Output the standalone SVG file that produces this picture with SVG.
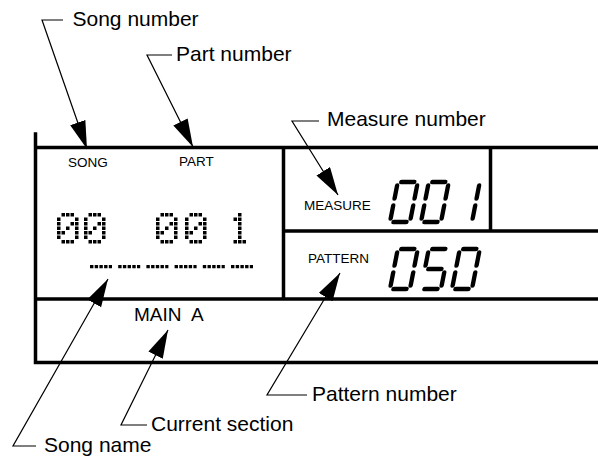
<svg xmlns="http://www.w3.org/2000/svg" width="598" height="458" viewBox="0 0 598 458">
<style>
.frame{stroke:#000;stroke-width:3.5;fill:none;stroke-linecap:square}
.lead{stroke:#000;stroke-width:1.2;fill:none;marker-end:url(#ah)}
.lbl{font-family:"Liberation Sans",Arial,sans-serif;font-size:21px;fill:#000}
.sm{font-family:"Liberation Sans",Arial,sans-serif;font-size:13.5px;fill:#000}
.lcd{font-family:"Liberation Sans",Arial,sans-serif;font-size:19px;fill:#000}
.seg{stroke:#000;stroke-width:4.4;stroke-linecap:round;fill:none}
.ul{stroke:#000;stroke-width:3.4;stroke-dasharray:3.4 1.3}
</style>
<defs>
<marker id="ah" markerUnits="userSpaceOnUse" markerWidth="30" markerHeight="18" refX="28" refY="8" orient="auto">
<path d="M0,0 L28,8 L0,16 Z" fill="#000"/>
</marker>
<path id="dz" d="M4.5 0h3.5v3.5h-3.5z M9 0h3.5v3.5h-3.5z M13.5 0h3.5v3.5h-3.5z M0 4.5h3.5v3.5h-3.5z M18 4.5h3.5v3.5h-3.5z M0 9h3.5v3.5h-3.5z M13.5 9h3.5v3.5h-3.5z M18 9h3.5v3.5h-3.5z M0 13.5h3.5v3.5h-3.5z M9 13.5h3.5v3.5h-3.5z M18 13.5h3.5v3.5h-3.5z M0 18h3.5v3.5h-3.5z M4.5 18h3.5v3.5h-3.5z M18 18h3.5v3.5h-3.5z M0 22.5h3.5v3.5h-3.5z M18 22.5h3.5v3.5h-3.5z M4.5 27h3.5v3.5h-3.5z M9 27h3.5v3.5h-3.5z M13.5 27h3.5v3.5h-3.5z" fill="#000"/>
<path id="d1" d="M9 0h3.5v3.5h-3.5z M4.5 4.5h3.5v3.5h-3.5z M9 4.5h3.5v3.5h-3.5z M9 9h3.5v3.5h-3.5z M9 13.5h3.5v3.5h-3.5z M9 18h3.5v3.5h-3.5z M9 22.5h3.5v3.5h-3.5z M4.5 27h3.5v3.5h-3.5z M9 27h3.5v3.5h-3.5z M13.5 27h3.5v3.5h-3.5z" fill="#000"/>
<g id="s0" class="seg"><path d="M3.5,-40H16.5 M20,-36.5V-23.5 M20,-16.5V-3.5 M3.5,0H16.5 M0,-16.5V-3.5 M0,-36.5V-23.5"/></g>
<g id="s1" class="seg"><path d="M20,-36.5V-23.5 M20,-16.5V-3.5"/></g>
<g id="s5" class="seg"><path d="M3.5,-40H16.5 M0,-36.5V-23.5 M3.5,-20H16.5 M20,-16.5V-3.5 M3.5,0H16.5"/></g>
</defs>

<g id="display">
<path class="frame" d="M35.5,134V362.5 M35.5,147.5H598 M35.5,299H598 M35.5,362.5H598 M283.5,147.5V299 M283.5,231H598 M490.5,147.5V231"/>
</g>

<g id="song-part-field">
<text class="sm" x="68" y="167">SONG</text>
<text class="sm" x="179" y="166">PART</text>
<use href="#dz" x="57" y="213"/>
<use href="#dz" x="84" y="213"/>
<use href="#dz" x="156" y="213"/>
<use href="#dz" x="185" y="213"/>
<use href="#d1" x="229" y="213"/>
<line class="ul" x1="90" y1="266.6" x2="112" y2="266.6"/>
<line class="ul" x1="118.2" y1="266.6" x2="140.2" y2="266.6"/>
<line class="ul" x1="146.4" y1="266.6" x2="168.4" y2="266.6"/>
<line class="ul" x1="174.6" y1="266.6" x2="196.6" y2="266.6"/>
<line class="ul" x1="202.8" y1="266.6" x2="224.8" y2="266.6"/>
<line class="ul" x1="231" y1="266.6" x2="253" y2="266.6"/>
</g>

<g id="measure-field">
<text class="sm" x="304" y="210">MEASURE</text>
<use href="#s0" transform="translate(390,222) skewX(-11)"/>
<use href="#s0" transform="translate(421,222) skewX(-11)"/>
<use href="#s1" transform="translate(452,222) skewX(-11)"/>
</g>

<g id="pattern-field">
<text class="sm" x="308" y="263">PATTERN</text>
<use href="#s0" transform="translate(390,289) skewX(-11)"/>
<use href="#s5" transform="translate(421,289) skewX(-11)"/>
<use href="#s0" transform="translate(452,289) skewX(-11)"/>
</g>

<g id="section-field">
<text class="lcd" x="134" y="321" xml:space="preserve">MAIN  A</text>
</g>

<g id="connectors">
<path class="lead" d="M63,20H42L87,149"/>
<path class="lead" d="M172,55H147L193,147"/>
<path class="lead" d="M319,121H292L338,195"/>
<path class="lead" d="M307,395H267L340,273"/>
<path class="lead" d="M147,425H121L168,330"/>
<path class="lead" d="M36,446H13L108,279"/>
</g>

<g id="label-song-number"><text class="lbl" x="72.5" y="25.5">Song number</text></g>
<g id="label-part-number"><text class="lbl" x="176" y="60.5">Part number</text></g>
<g id="label-measure-number"><text class="lbl" x="327" y="126">Measure number</text></g>
<g id="label-pattern-number"><text class="lbl" x="312" y="400.5">Pattern number</text></g>
<g id="label-current-section"><text class="lbl" x="151" y="430.5">Current section</text></g>
<g id="label-song-name"><text class="lbl" x="44" y="451.5">Song name</text></g>
</svg>
